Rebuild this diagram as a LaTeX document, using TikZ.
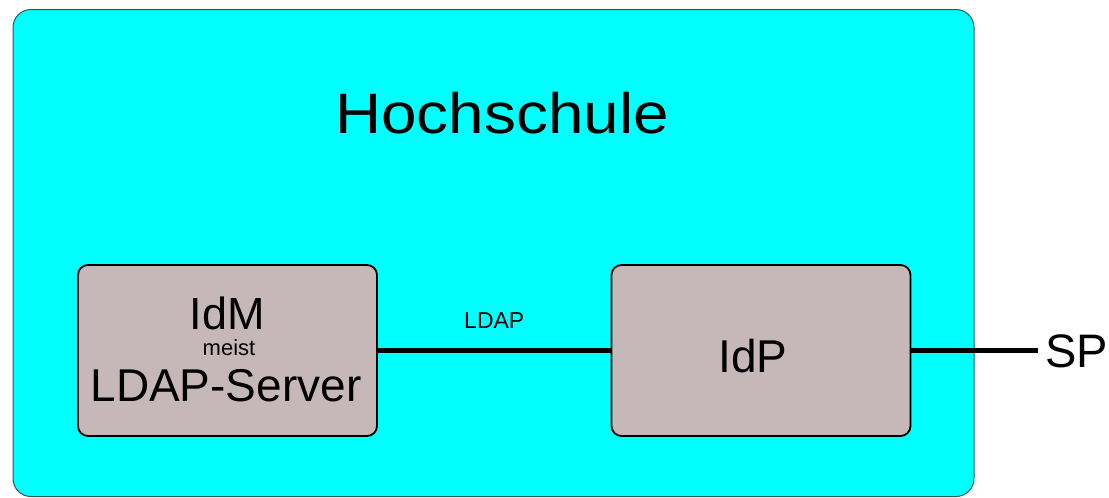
\documentclass[tikz,border=0pt]{standalone}
\usepackage{fontspec}
\setmainfont{Liberation Sans}
\usetikzlibrary{positioning}
\definecolor{hscyan}{RGB}{0,255,255}
\definecolor{hsedge}{RGB}{40,90,90}
\definecolor{boxgray}{RGB}{198,184,184}

\begin{document}
\begin{tikzpicture}[x=1pt,y=-1pt,
    system/.style={draw=black, line width=1.8pt, fill=boxgray, rounded corners=10pt,
      minimum width=299pt, minimum height=171pt, inner sep=0pt},
    link/.style={line width=5pt},
    txt/.style={anchor=base, inner sep=0pt}]

    % Frame
    \useasboundingbox (0,0) rectangle (1109,498);

    % Hochschule
    \node[draw=hsedge, line width=1pt, fill=hscyan, rounded corners=18pt,
      minimum width=961pt, minimum height=487pt] (hs) at (493.5,253) {};
    \node[txt, font=\fontsize{57}{60}\selectfont] (hstitle) at (502,133)
      {\scalebox{1.12}[1]{Hochschule}};

    % IdM
    \node[system] (idm) at (227.5,350.5) {};
    \node[txt, font=\fontsize{45}{48}\selectfont] (idmname) at (227,329) {IdM};
    \node[txt, font=\fontsize{22}{24}\selectfont] (idmnote) at (229,355) {meist};
    \node[txt, font=\fontsize{46}{48}\selectfont] (idmserver) at (226,401) {LDAP-Server};

    % IdP
    \node[system] (idp) at (761,350.5) {};
    \node[txt, font=\fontsize{46}{48}\selectfont] (idpname) at (753,372) {IdP};

    % SP
    \node[anchor=base west, inner xsep=7pt, inner ysep=0pt,
      font=\fontsize{47}{48}\selectfont] (sp) at (1038,367) {SP};

    % Links
    \draw[link] (idm.east) -- node[midway, anchor=base, yshift=22pt,
      font=\fontsize{23}{24}\selectfont] (ldap) {LDAP} (idp.west);
    \draw[link] (idp.east) -- (sp.west |- idp.east);

\end{tikzpicture}
\end{document}
